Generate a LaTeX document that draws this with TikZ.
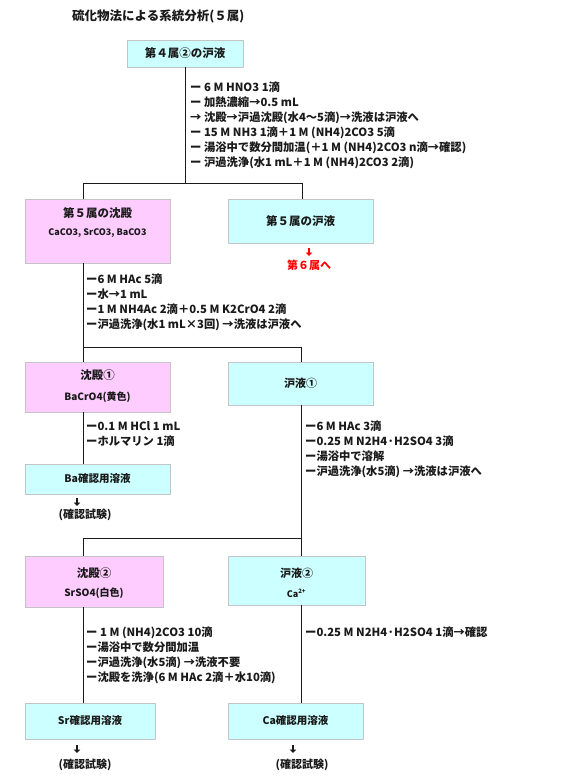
\documentclass[tikz,border=0pt]{standalone}
\usepackage{fontspec}
\setmainfont{Noto Sans CJK JP}
\usetikzlibrary{arrows.meta,positioning}
\definecolor{cyanbox}{HTML}{CCFFFF}
\definecolor{pinkbox}{HTML}{FFCCFF}
\definecolor{boxline}{HTML}{C4C4C4}
\definecolor{ink}{HTML}{1A1A1A}
\tikzset{
  fbox/.style={
    shape = rectangle,
    draw = boxline,
    line width = 0.9pt,
    fill = cyanbox,
    inner sep = 0pt
  },
  pbox/.style={
    fbox,
    fill = pinkbox
  },
}
\tikzset{
  ttl/.style={font=\fontsize{11.5}{13}\selectfont\bfseries, inner sep=0pt, text=ink},
  sub/.style={font=\fontsize{9}{11}\selectfont\bfseries, inner sep=0pt, text=ink},
  steps/.style={anchor=north west, align=left, inner sep=0pt, text=ink,
    font=\fontsize{11.3}{15}\selectfont\bfseries},
  flow/.style={draw=ink, line width=0.9pt},
  down/.style={line width=2.2pt, -{Triangle[width=6.5pt,length=3.5pt]}},
  check/.style={font=\fontsize{11}{13}\selectfont\bfseries, inner sep=0pt, text=ink},
}

\begin{document}
\begin{tikzpicture}[x=1pt,y=-1pt]
  \useasboundingbox[fill=white] (0,0) rectangle (567,779);

  \node[font=\fontsize{12.5}{14}\selectfont\bfseries, anchor=west, inner sep=0pt, text=ink]
    (title) at (72,16) {硫化物法による系統分析(５属)};

  % boxes
  \node[fbox, minimum width=116, minimum height=27] (src) at (185,53.5) {};
  \node[ttl] (srct) at (src.center) {第４属②の沪液};

  \node[pbox, minimum width=145, minimum height=64] (ppt5) at (97.5,231) {};
  \node[ttl] (ppt5t) at (97.5,213) {第５属の沈殿};
  \node[sub] (ppt5s) at (97.5,233) {CaCO3, SrCO3, BaCO3};

  \node[fbox, minimum width=145, minimum height=44] (fil5) at (300.5,221) {};
  \node[ttl] (fil5t) at (fil5.center) {第５属の沪液};

  \node[pbox, minimum width=145, minimum height=50] (ppt1) at (97.5,387) {};
  \node[ttl] (ppt1t) at (97.5,375) {沈殿①};
  \node[sub, font=\fontsize{10}{12}\selectfont\bfseries] (ppt1s) at (97.5,397) {BaCrO4(黄色)};

  \node[fbox, minimum width=145, minimum height=43] (fil1) at (300.5,383.5) {};
  \node[ttl, font=\fontsize{11}{13}\selectfont\bfseries] (fil1t) at (fil1.center) {沪液①};

  \node[fbox, minimum width=145, minimum height=30] (ba) at (97.5,479) {};
  \node[ttl, font=\fontsize{10.5}{12}\selectfont\bfseries] (bat) at (ba.center) {Ba確認用溶液};

  \node[pbox, minimum width=138, minimum height=51] (ppt2) at (94,581.5) {};
  \node[ttl] (ppt2t) at (94,573) {沈殿②};
  \node[sub, font=\fontsize{10}{12}\selectfont\bfseries] (ppt2s) at (94,593) {SrSO4(白色)};

  \node[fbox, minimum width=137, minimum height=49] (fil2) at (296.5,580.5) {};
  \node[ttl, font=\fontsize{11}{13}\selectfont\bfseries] (fil2t) at (296.5,573) {沪液②};
  \node[sub] (fil2s) at (296.5,593) {Ca\textsuperscript{2+}};

  \node[fbox, minimum width=130, minimum height=36] (sr) at (90,721) {};
  \node[ttl, font=\fontsize{10.5}{12}\selectfont\bfseries] (srt) at (sr.center) {Sr確認用溶液};

  \node[fbox, minimum width=135, minimum height=36] (ca) at (295.5,721) {};
  \node[ttl, font=\fontsize{10.5}{12}\selectfont\bfseries] (cat) at (ca.center) {Ca確認用溶液};

  % connectors
  \coordinate (j1l) at (83,183);
  \coordinate (j1r) at (302,183);
  \coordinate (j2) at (301,347);
  \coordinate (j3) at (301,538);
  \draw[flow] (src) -- (src |- j1l);
  \draw[flow] (j1l |- ppt5.north) -- (j1l) -- (j1r) -- (j1r |- fil5.north);
  \draw[flow] (j1l |- ppt5.south) -- (j1l |- ppt1.north);
  \draw[flow] (j1l |- j2) -- (j2) -- (j2 |- fil1.north);
  \draw[flow] (j1l |- ppt1.south) -- (j1l |- ba.north);
  \draw[flow] (j3 |- fil1.south) -- (j3 |- fil2.north);
  \draw[flow] (j3) -- (j3 -| j1l) -- (j1l |- ppt2.north);
  \draw[flow] (j1l |- ppt2.south) -- (j1l |- sr.north);
  \draw[flow] (j3 |- fil2.south) -- (j3 |- ca.north);

  % procedures
  \node[steps] (op1) at (190,82) {ー 6 M HNO3 1滴\\
    ー 加熱濃縮→0.5 mL\\
    → 沈殿→沪過沈殿(水4～5滴)→洗液は沪液へ\\
    ー 15 M NH3 1滴＋1 M (NH4)2CO3 5滴\\
    ー 湯浴中で数分間加温(＋1 M (NH4)2CO3 n滴→確認)\\
    ー 沪過洗浄(水1 mL＋1 M (NH4)2CO3 2滴)};
  \node[steps] (op2) at (86,274) {ー6 M HAc 5滴\\
    ー水→1 mL\\
    ー1 M NH4Ac 2滴＋0.5 M K2CrO4 2滴\\
    ー沪過洗浄(水1 mL×3回) →洗液は沪液へ};
  \node[steps] (op3) at (86,421) {ー0.1 M HCl 1 mL\\
    ーホルマリン 1滴};
  \node[steps] (op4) at (305,421) {ー6 M HAc 3滴\\
    ー0.25 M N2H4·H2SO4 3滴\\
    ー湯浴中で溶解\\
    ー沪過洗浄(水5滴) →洗液は沪液へ};
  \node[steps] (op5) at (86,627) {ー 1 M (NH4)2CO3 10滴\\
    ー湯浴中で数分間加温\\
    ー沪過洗浄(水5滴) →洗液不要\\
    ー沈殿を洗浄(6 M HAc 2滴＋水10滴)};
  \node[steps] (op6) at (305,627) {ー0.25 M N2H4·H2SO4 1滴→確認};

  % outlets
  \draw[down, red] (309,248) -- (309,256);
  \node[check, text=red] (next6) at (309,265) {第６属へ};
  \draw[down, ink] (77,498) -- (77,506);
  \node[check] (ck1) at (85,515) {(確認試験)};
  \draw[down, ink] (77,745) -- (77,753);
  \node[check] (ck2) at (85,765) {(確認試験)};
  \draw[down, ink] (293,745) -- (293,753);
  \node[check] (ck3) at (302,765) {(確認試験)};
\end{tikzpicture}
\end{document}
